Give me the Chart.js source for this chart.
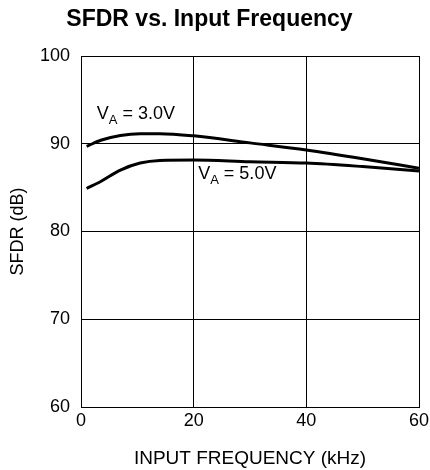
<!DOCTYPE html>
<html>
<head>
<meta charset="utf-8">
<script src="https://cdn.jsdelivr.net/npm/chart.js@4/dist/chart.umd.min.js"></script>
<style>
  html, body { margin: 0; padding: 0; background: #fff; }
  #wrap { width: 430px; height: 470px; }
</style>
</head>
<body>
<div id="wrap"><canvas id="sfdrChart" width="430" height="470"></canvas></div>
<script>
// =================== DATA ===================
const freqKHz = [1, 3.5, 7, 10.5, 14, 20, 30, 40, 50, 60];
const sfdrVa3 = [89.7, 90.4, 90.95, 91.15, 91.15, 90.9, 90.1, 89.3, 88.3, 87.2];
const sfdrVa5 = [84.9, 85.7, 87.0, 87.8, 88.1, 88.15, 87.95, 87.8, 87.4, 86.9];
const seriesNames = ["3.0V", "5.0V"];
// where each curve's label sits, in data units (kHz, dB) at the text baseline
const labelAnchors = [
  { x: 2.8, y: 92.85 },
  { x: 20.8, y: 86.0 }
];

const FONT = "'Liberation Sans', Arial, Helvetica, sans-serif";

function toPoints(xs, ys) {
  return xs.map((x, i) => ({ x: x, y: ys[i] }));
}

// =================== CURVE LABELS (V with subscript A) ===================
const curveLabels = {
  id: "curveLabels",
  afterDatasetsDraw(chart) {
    const ctx = chart.ctx;
    const xs = chart.scales.x, ys = chart.scales.y;
    ctx.save();
    ctx.fillStyle = "#000";
    ctx.textBaseline = "alphabetic";
    ctx.textAlign = "left";
    labelAnchors.forEach((a, i) => {
      let px = xs.getPixelForValue(a.x);
      const py = ys.getPixelForValue(a.y);
      ctx.font = "18px " + FONT;
      ctx.fillText("V", px, py);
      px += ctx.measureText("V").width;
      ctx.font = "13px " + FONT;
      ctx.fillText("A", px, py + 5);
      px += ctx.measureText("A").width;
      ctx.font = "18px " + FONT;
      ctx.fillText(" = " + seriesNames[i], px, py);
    });
    ctx.restore();
  }
};

// =================== CHART ===================
new Chart(document.getElementById("sfdrChart"), {
  type: "scatter",
  data: {
    datasets: [
      {
        label: seriesNames[0],
        data: toPoints(freqKHz, sfdrVa3),
        showLine: true,
        borderColor: "#000",
        borderWidth: 3,
        pointRadius: 0,
        cubicInterpolationMode: "monotone"
      },
      {
        label: seriesNames[1],
        data: toPoints(freqKHz, sfdrVa5),
        showLine: true,
        borderColor: "#000",
        borderWidth: 3,
        pointRadius: 0,
        cubicInterpolationMode: "monotone"
      }
    ]
  },
  options: {
    responsive: false,
    animation: false,
    layout: { padding: { left: 0, right: 11, top: 0, bottom: 0 } },
    plugins: {
      legend: { display: false },
      tooltip: { enabled: false },
      title: {
        display: true,
        text: "SFDR vs. Input Frequency",
        color: "#000",
        font: { family: FONT, size: 23, weight: "bold" },
        padding: { top: 6, bottom: 22.4 }
      }
    },
    scales: {
      x: {
        type: "linear",
        min: 0,
        max: 60,
        afterFit: (s) => { s.height = 63; s.paddingRight = 0; s.paddingLeft = 0; },
        border: { display: true, color: "#000", width: 1 },
        grid: { color: "#000", lineWidth: 1, drawTicks: false },
        ticks: {
          stepSize: 20,
          color: "#000",
          padding: 3,
          font: { family: FONT, size: 18 }
        },
        title: {
          display: true,
          text: "INPUT FREQUENCY (kHz)",
          color: "#000",
          font: { family: FONT, size: 19 },
          padding: { top: 4, bottom: 0 }
        }
      },
      y: {
        min: 60,
        max: 100,
        afterFit: (s) => { s.width = 81; },
        border: { display: true, color: "#000", width: 1 },
        grid: { color: "#000", lineWidth: 1, drawTicks: false },
        ticks: {
          stepSize: 10,
          color: "#000",
          padding: 11,
          font: { family: FONT, size: 18 }
        },
        title: {
          display: true,
          text: "SFDR (dB)",
          color: "#000",
          font: { family: FONT, size: 18 },
          padding: { top: 7, bottom: 0 }
        }
      }
    }
  },
  plugins: [curveLabels]
});
</script>
</body>
</html>
